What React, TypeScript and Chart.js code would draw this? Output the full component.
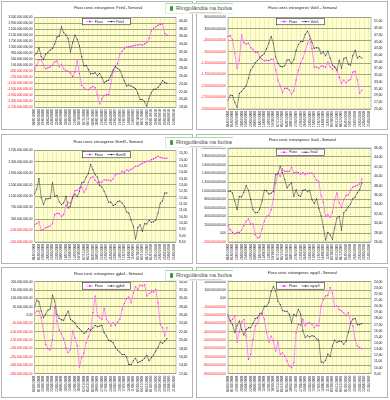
import React, { useEffect, useRef } from 'react';
import { Chart, registerables } from 'chart.js';

Chart.register(...registerables);

const DATES = [
  '04/01/2008', '18/01/2008', '01/02/2008', '15/02/2008', '29/02/2008', '14/03/2008', '28/03/2008', '11/04/2008',
  '25/04/2008', '09/05/2008', '23/05/2008', '06/06/2008', '20/06/2008', '04/07/2008', '18/07/2008', '01/08/2008',
  '15/08/2008', '29/08/2008', '12/09/2008', '26/09/2008', '10/10/2008', '24/10/2008', '07/11/2008', '21/11/2008',
  '05/12/2008', '19/12/2008', '02/01/2009', '16/01/2009', '30/01/2009', '13/02/2009', '27/02/2009', '13/03/2009',
  '27/03/2009', '10/04/2009', '24/04/2009', '08/05/2009', '22/05/2009', '05/06/2009', '19/06/2009', '03/07/2009',
  '17/07/2009', '31/07/2009', '14/08/2009', '28/08/2009', '11/09/2009', '25/09/2009', '09/10/2009', '23/10/2009',
  '06/11/2009', '20/11/2009', '04/12/2009', '18/12/2009', '01/01/2010', '15/01/2010', '29/01/2010', '12/02/2010',
  '26/02/2010', '12/03/2010', '26/03/2010', '09/04/2010', '23/04/2010', '07/05/2010', '21/05/2010', '04/06/2010',
];

// Fluxo values are in millions of R$
const PETR4_FLUXO = [-240, 100, 480, 480, 100, -130, -60, -10, 100, 320, 390, -10, 165, -130, -260, -305, -420, -640, -350, 390, -460, -1250, -1400, -1510, -1535, -1400, -1310, -1400, -1850, -2480, -2140, -1920, -1870, -1850, -1130, -350, 30, 210, 840, 1040, 1220, 1310, 1330, 1375, 1400, 1440, 1465, 1490, 1440, 1530, 1600, 1890, 2400, 2560, 2670, 2760, 2830, 2850, 2225, 2110];
const PETR4_PRECO = [31.3, 31.7, 33.1, 30.9, 30.2, 31.5, 32.0, 32.6, 33.0, 34.1, 35.9, 36.1, 38.5, 37.0, 36.4, 35.5, 32.1, 34.4, 36.4, 35.3, 33.6, 30.9, 28.5, 28.7, 27.6, 26.5, 26.6, 26.8, 26.0, 26.6, 25.6, 24.3, 24.7, 24.9, 26.0, 27.5, 28.3, 27.9, 27.5, 26.0, 24.7, 23.4, 23.7, 23.4, 23.1, 22.8, 21.6, 20.0, 20.0, 19.4, 18.3, 20.3, 21.7, 22.6, 22.6, 23.1, 23.8, 24.8, 24.3, 24.1];
const PETR4_FLUXO_TICKS = [-2700, -2300, -1900, -1500, -1100, -700, -300, 100, 500, 900, 1300, 1700, 2100, 2500, 2900, 3300];
const PETR4_PRECO_TICKS = [18, 20, 22, 24, 26, 28, 30, 32, 34, 36, 38, 40];

const VALE5_FLUXO = [-40, 0, -190, -770, -1425, -1060, 30, -305, -365, -335, -525, -595, -730, -730, -915, -1030, -1105, -1075, -1090, -1030, -1030, -1500, -1935, -2195, -2490, -2300, -2300, -2370, -2545, -2415, -1935, -1515, -1210, -975, -670, -350, -145, -555, -1380, -1365, -1425, -1325, -1340, -1380, -1165, -1355, -1470, -1365, -1530, -1820, -2080, -1935, -2065, -1950, -1920, -1585, -1570, -1935, -2515, -2370];
const VALE5_PRECO = [27.7, 29.1, 29.0, 26.9, 25.5, 29.7, 30.2, 31.1, 31.9, 34.1, 36.5, 37.5, 38.7, 39.4, 40.1, 40.9, 41.4, 42.9, 44.6, 46.5, 44.5, 40.4, 38.6, 37.7, 37.5, 37.8, 39.5, 39.6, 38.4, 39.6, 42.4, 44.1, 45.0, 45.0, 47.1, 48.1, 46.7, 44.7, 43.0, 43.2, 43.1, 41.4, 41.9, 40.8, 42.2, 40.1, 38.0, 37.5, 36.6, 39.5, 37.1, 39.9, 40.3, 38.3, 38.0, 40.8, 42.4, 40.1, 40.6, 40.1];
const VALE5_FLUXO_TICKS = [-3200, -2700, -2200, -1700, -1200, -700, -200, 300, 800];
const VALE5_PRECO_TICKS = [25, 27, 29, 31, 33, 35, 37, 39, 41, 43, 45, 47, 49, 51];

const BVMF3_FLUXO = [100, 140, 200, -90, -70, 0, 25, 60, 140, 455, 500, 490, 395, 455, 770, 885, 850, 1095, 1290, 1305, 1385, 1420, 1235, 1350, 1585, 1735, 1780, 1655, 1560, 1595, 1585, 1675, 1655, 1665, 1630, 1700, 1850, 1885, 1885, 1965, 1930, 2015, 1980, 2035, 2085, 2140, 2150, 2200, 2245, 2280, 2315, 2315, 2375, 2400, 2445, 2490, 2455, 2430, 2420, 2420];
const BVMF3_PRECO = [12.25, 12.7, 13.52, 11.99, 11.46, 11.91, 11.91, 11.96, 13.18, 12.12, 12.17, 11.67, 11.46, 11.59, 12.12, 11.19, 11.33, 11.99, 12.3, 12.07, 12.52, 13.18, 13.23, 13.63, 13.92, 14.63, 14.23, 13.81, 13.63, 12.97, 12.86, 12.52, 12.12, 11.64, 11.67, 11.38, 11.46, 11.7, 11.75, 11.59, 11.33, 10.88, 10.8, 10.22, 9.74, 8.74, 9.64, 9.87, 9.35, 9.95, 9.93, 10.22, 10.06, 10.11, 10.22, 10.8, 11.59, 11.75, 12.38, 12.38];
const BVMF3_FLUXO_TICKS = [-500, -100, 300, 700, 1100, 1500, 1900, 2300, 2700];
const BVMF3_PRECO_TICKS = [8.5, 9, 9.5, 10, 10.5, 11, 11.5, 12, 12.5, 13, 13.5, 14, 14.5, 15, 15.5];

const ITSA4_FLUXO = [180, 90, 25, -5, 25, 25, 73, 190, 284, 338, 214, 221, -28, -106, -83, 104, 292, 401, 416, 557, 806, 1181, 1415, 1337, 1509, 1454, 1454, 1454, 1548, 1415, 1438, 1423, 1384, 1423, 1376, 1407, 1407, 1415, 1337, 1251, 1220, 884, 728, 401, 440, 377, 494, 791, 947, 713, 611, 791, 892, 900, 1009, 1087, 1103, 1126, 1157, 1274];
const ITSA4_PRECO = [36.8, 36.8, 36.4, 34.7, 32.9, 35.7, 35.6, 36.6, 38.0, 37.0, 35.1, 32.9, 32.2, 32.3, 33.0, 34.7, 37.0, 36.9, 36.2, 36.4, 36.8, 40.3, 40.5, 42.1, 40.8, 39.3, 37.5, 38.2, 38.6, 35.7, 37.1, 35.9, 35.7, 37.0, 37.1, 36.7, 37.0, 35.0, 34.2, 35.2, 33.2, 31.6, 29.2, 26.4, 28.1, 27.5, 26.6, 29.0, 31.1, 31.5, 28.5, 32.2, 32.7, 33.5, 34.1, 35.2, 35.6, 36.5, 37.1, 38.6];
const ITSA4_FLUXO_TICKS = [-200, 0, 200, 400, 600, 800, 1000, 1200, 1400, 1600, 1800, 2000];
const ITSA4_PRECO_TICKS = [26, 28, 30, 32, 34, 36, 38, 40, 42, 44, 46];

const GGBR4_FLUXO = [5, 25, 25, -15, -95, -175, -200, -208, -145, 45, -35, -89, -113, -141, -195, -225, -205, -95, -135, -181, -310, -255, -228, -165, -129, -95, 15, 114, -5, -15, -25, 39, -25, -41, -65, -45, -61, -41, -25, 35, 70, 98, 108, 74, 134, 170, 154, 180, 174, 182, 114, 130, 138, 138, 154, 74, -55, -75, -125, -75];
const GGBR4_PRECO = [27.8, 29.6, 29.2, 27.0, 25.4, 26.3, 27.2, 27.5, 30.8, 29.4, 26.2, 25.2, 24.9, 24.8, 26.0, 27.0, 25.0, 24.6, 24.2, 23.2, 22.8, 22.2, 21.6, 22.0, 22.8, 22.4, 22.9, 23.6, 23.2, 23.4, 23.6, 21.8, 21.0, 20.0, 19.8, 19.4, 18.3, 17.6, 17.2, 16.6, 16.6, 16.0, 14.2, 14.2, 15.1, 15.7, 14.6, 14.9, 15.2, 15.7, 16.4, 15.1, 15.8, 16.5, 17.4, 18.3, 19.6, 19.3, 19.8, 20.4];
const GGBR4_FLUXO_TICKS = [-350, -300, -250, -200, -150, -100, -50, 0, 50, 100, 150, 200];
const GGBR4_PRECO_TICKS = [12, 14, 16, 18, 20, 22, 24, 26, 28, 30, 32, 34];

const OGXP3_FLUXO = [-190, -270, -250, -210, -520, -400, -282, -250, -450, -729, -669, -490, -330, -298, -203, -191, -250, -410, -521, -450, -509, -629, -521, -669, -649, -689, -749, -808, -828, -769, -410, -310, -322, -250, -330, -298, -290, -310, -350, -322, -330, -91, -11, 29, 37, 130, 68, -99, -91, -135, -147, -171, -203, -171, -278, -330, -497, -569, -589, -601];
const OGXP3_PRECO = [18.4, 17.6, 17.0, 15.7, 16.9, 17.6, 16.2, 15.3, 16.2, 16.5, 16.5, 17.2, 18.0, 18.1, 18.8, 18.9, 20.0, 20.0, 20.6, 22.4, 23.2, 22.5, 20.8, 20.3, 19.3, 19.2, 19.2, 18.7, 17.3, 18.7, 18.4, 19.5, 18.7, 16.0, 14.9, 15.2, 15.0, 15.2, 15.1, 14.7, 14.5, 10.9, 10.8, 11.2, 12.2, 11.8, 13.5, 14.5, 14.1, 14.3, 14.3, 13.8, 14.3, 15.7, 17.2, 17.9, 18.0, 17.0, 17.0, 17.2];
const OGXP3_FLUXO_TICKS = [-900, -800, -700, -600, -500, -400, -300, -200, -100, 0, 100, 200];
const OGXP3_PRECO_TICKS = [9, 10, 11, 12, 13, 14, 15, 16, 17, 18, 19, 20, 21, 22, 23, 24];

const FONT = '"Liberation Sans", Arial, sans-serif';

function fmtBR(n: number, decimals = 2): string {
  const neg = n < 0;
  const fixed = Math.abs(n).toFixed(decimals);
  const [intPart, dec] = fixed.split('.');
  const grouped = intPart.replace(/\B(?=(\d{3})+(?!\d))/g, '.');
  return (neg ? '-' : '') + grouped + (dec ? ',' + dec : '');
}

type Spec = {
  title: string;
  stock: string;
  fluxo: number[];
  preco: number[];
  fluxoTicks: number[];
  precoTicks: number[];
  precoMax: number;
  x: number; y: number; w: number; h: number;
  l: number; r: number; t: number; b: number;
  titleY: number;
};

const decorPlugin = {
  id: 'decor',
  beforeDraw(chart: any) {
    const { ctx, chartArea: a } = chart;
    ctx.save();
    ctx.fillStyle = '#ffffcc';
    ctx.fillRect(a.left, a.top, a.right - a.left, a.bottom - a.top);
    ctx.restore();
  },
  afterDatasetsDraw(chart: any, _args: any, opts: any) {
    const { ctx, chartArea: a } = chart;
    ctx.save();
    ctx.strokeStyle = '#9a9a9a';
    ctx.lineWidth = 0.6;
    ctx.strokeRect(a.left, a.top, a.right - a.left, a.bottom - a.top);
    const cx = (a.left + a.right) / 2 + 1;
    const bx = cx - 24;
    const by = a.top + 1;
    const bw = 48;
    const bh = 6.5;
    ctx.fillStyle = '#ffffff';
    ctx.fillRect(bx, by, bw, bh);
    ctx.strokeStyle = '#000000';
    ctx.lineWidth = 0.5;
    ctx.strokeRect(bx, by, bw, bh);
    const my = by + bh / 2;
    ctx.lineWidth = 0.9;
    ctx.strokeStyle = '#ff88ff';
    ctx.beginPath(); ctx.moveTo(bx + 4, my); ctx.lineTo(bx + 11, my); ctx.stroke();
    ctx.fillStyle = '#ff00ff';
    ctx.fillRect(bx + 6.8, my - 0.8, 1.6, 1.6);
    ctx.strokeStyle = '#505058';
    ctx.lineWidth = 0.7;
    ctx.beginPath(); ctx.moveTo(bx + 25, my); ctx.lineTo(bx + 33, my); ctx.stroke();
    ctx.fillStyle = '#000080';
    ctx.fillRect(bx + 28.5, my - 0.6, 1.2, 1.2);
    ctx.fillStyle = '#222222';
    ctx.font = `3.3px ${FONT}`;
    ctx.textBaseline = 'middle';
    ctx.textAlign = 'left';
    ctx.fillText('Fluxo', bx + 12.5, my + 0.2);
    ctx.fillText(opts.stock, bx + 34, my + 0.2);
    ctx.restore();
  },
  afterDraw(chart: any, _args: any, opts: any) {
    const { ctx, chartArea: a } = chart;
    ctx.save();
    ctx.fillStyle = '#222222';
    ctx.font = `3.6px ${FONT}`;
    ctx.textAlign = 'center';
    ctx.textBaseline = 'middle';
    ctx.fillText(opts.title, (a.left + a.right) / 2 + 3, opts.titleY);
    ctx.restore();
  },
};

function ChartPanel({ spec }: { spec: Spec }) {
  const ref = useRef<HTMLCanvasElement>(null);
  useEffect(() => {
    const canvas = ref.current;
    if (!canvas) return;
    const fTicks = spec.fluxoTicks;
    const pTicks = spec.precoTicks;
    const chart = new Chart(canvas, {
      type: 'line',
      data: {
        labels: DATES,
        datasets: [
          {
            label: 'Fluxo',
            data: spec.fluxo,
            yAxisID: 'y',
            borderColor: '#ff80ff',
            borderWidth: 0.9,
            pointRadius: 0.75,
            pointBorderWidth: 0,
            pointBackgroundColor: '#ff00ff',
            pointStyle: 'rect',
            tension: 0,
            order: 1,
          },
          {
            label: spec.stock,
            data: spec.preco,
            yAxisID: 'y2',
            borderColor: '#4a4a4e',
            borderWidth: 0.6,
            pointRadius: 0.5,
            pointBorderWidth: 0,
            pointBackgroundColor: '#000080',
            tension: 0,
            order: 0,
          },
        ],
      },
      options: {
        responsive: false,
        animation: false,
        devicePixelRatio: 1,
        events: [],
        layout: { padding: { top: spec.t, left: 0, right: 0, bottom: 0 } },
        plugins: {
          legend: { display: false },
          title: { display: false },
          tooltip: { enabled: false },
          decor: { title: spec.title, stock: spec.stock, titleY: spec.titleY },
        } as any,
        scales: {
          x: {
            type: 'category',
            offset: false,
            grid: {
              color: (c: any) => (c.index % 2 === 0 ? '#b8b89c' : 'rgba(0,0,0,0)'),
              lineWidth: 0.5,
              drawTicks: false,
            },
            border: { display: false, dash: [1, 1] },
            ticks: {
              autoSkip: false,
              minRotation: 90,
              maxRotation: 90,
              padding: 2,
              color: '#333333',
              font: { size: 3.2, family: FONT },
              callback: (_v: any, i: number) => (i % 2 === 0 ? DATES[i] : ''),
            },
            afterFit: (s: any) => { s.height = spec.h - spec.b; },
          },
          y: {
            type: 'linear',
            position: 'left',
            min: fTicks[0],
            max: fTicks[fTicks.length - 1],
            afterBuildTicks: (s: any) => { s.ticks = fTicks.map((v) => ({ value: v })); },
            grid: { color: '#8e8e70', lineWidth: 0.8, drawTicks: false },
            border: { display: false },
            ticks: {
              autoSkip: false,
              padding: 2,
              font: { size: 3.1, family: FONT },
              color: (c: any) => (c.tick && c.tick.value < 0 ? '#ff0000' : '#111111'),
              callback: (v: any) => fmtBR(Number(v) * 1e6),
            },
            afterFit: (s: any) => { s.width = spec.l; },
          },
          y2: {
            type: 'linear',
            position: 'right',
            min: pTicks[0],
            max: spec.precoMax,
            afterBuildTicks: (s: any) => { s.ticks = pTicks.map((v) => ({ value: v })); },
            grid: { drawOnChartArea: false, drawTicks: false },
            border: { display: false },
            ticks: {
              autoSkip: false,
              padding: 3,
              font: { size: 3.4, family: FONT },
              color: '#111111',
              callback: (v: any) => fmtBR(Number(v)),
            },
            afterFit: (s: any) => { s.width = spec.w - spec.r; },
          },
        },
      } as any,
      plugins: [decorPlugin as any],
    });
    return () => chart.destroy();
  }, [spec]);
  return (
    <>
      <canvas
        ref={ref}
        width={spec.w}
        height={spec.h}
        style={{ position: 'absolute', left: spec.x, top: spec.y, width: spec.w, height: spec.h, display: 'block' }}
      />
      <div
        style={{
          position: 'absolute', left: spec.x, top: spec.y, width: spec.w, height: spec.h,
          border: '1px solid #b4b4b4', boxSizing: 'border-box', pointerEvents: 'none',
        }}
      />
    </>
  );
}

const SPECS: Spec[] = [
  {
    title: 'Fluxo const. estrangeiros: Petr4 - Semanal', stock: 'Petr4',
    fluxo: PETR4_FLUXO, preco: PETR4_PRECO, fluxoTicks: PETR4_FLUXO_TICKS, precoTicks: PETR4_PRECO_TICKS, precoMax: 40.9,
    x: 1, y: 1, w: 192, h: 129, l: 33.5, r: 175, t: 16.3, b: 106.3, titleY: 7.3,
  },
  {
    title: 'Fluxo const. estrangeiros: Vale5 - Semanal', stock: 'Vale5',
    fluxo: VALE5_FLUXO, preco: VALE5_PRECO, fluxoTicks: VALE5_FLUXO_TICKS, precoTicks: VALE5_PRECO_TICKS, precoMax: 52.2,
    x: 196, y: 1, w: 192, h: 129, l: 32, r: 175, t: 16.3, b: 108, titleY: 7.3,
  },
  {
    title: 'Fluxo const. estrangeiros: Bvmf3 - Semanal', stock: 'Bvmf3',
    fluxo: BVMF3_FLUXO, preco: BVMF3_PRECO, fluxoTicks: BVMF3_FLUXO_TICKS, precoTicks: BVMF3_PRECO_TICKS, precoMax: 15.75,
    x: 1, y: 134, w: 192, h: 130, l: 33.5, r: 175, t: 16.3, b: 108, titleY: 8,
  },
  {
    title: 'Fluxo const. estrangeiros: Itsa4 - Semanal', stock: 'Itsa4',
    fluxo: ITSA4_FLUXO, preco: ITSA4_PRECO, fluxoTicks: ITSA4_FLUXO_TICKS, precoTicks: ITSA4_PRECO_TICKS, precoMax: 46,
    x: 196, y: 134, w: 192, h: 130, l: 32, r: 175, t: 14, b: 108, titleY: 6.3,
  },
  {
    title: 'Fluxo const. estrangeiros: ggbr4 - Semanal', stock: 'ggbr4',
    fluxo: GGBR4_FLUXO, preco: GGBR4_PRECO, fluxoTicks: GGBR4_FLUXO_TICKS, precoTicks: GGBR4_PRECO_TICKS, precoMax: 34,
    x: 1, y: 267, w: 192, h: 131, l: 33.5, r: 175, t: 14.7, b: 106.7, titleY: 7.3,
  },
  {
    title: 'Fluxo const. estrangeiros: ogxp3 - Semanal', stock: 'ogxp3',
    fluxo: OGXP3_FLUXO, preco: OGXP3_PRECO, fluxoTicks: OGXP3_FLUXO_TICKS, precoTicks: OGXP3_PRECO_TICKS, precoMax: 24,
    x: 196, y: 267, w: 192, h: 131, l: 32, r: 175, t: 14.7, b: 106.7, titleY: 5.7,
  },
];

const LOGO_TOPS = [3, 137, 270];

function Logo({ top }: { top: number }) {
  return (
    <div
      style={{
        position: 'absolute', left: 165, top, width: 68, height: 11, background: '#ffffff',
        borderTop: '1.5px solid #a8dca8', borderLeft: '1px solid #d2ecd2', borderBottom: '1px solid #e4f2e4',
        boxSizing: 'border-box', overflow: 'hidden',
      }}
    >
      <div style={{ position: 'absolute', left: 4, top: 1.5, width: 3, height: 5, background: '#3c9a3c', borderRadius: 1 }} />
      <span
        style={{
          position: 'absolute', left: 10, top: 0, fontSize: 6.2, lineHeight: '7px', fontFamily: FONT,
          color: '#555555', whiteSpace: 'nowrap', letterSpacing: -0.1,
        }}
      >
        Ringolândia na bolsa
      </span>
      <span
        style={{
          position: 'absolute', left: 24, top: 6.8, fontSize: 2.2, lineHeight: '2.5px', fontFamily: FONT,
          color: '#888888', whiteSpace: 'nowrap',
        }}
      >
        ringolandianabolsa.blogspot.com
      </span>
    </div>
  );
}

export default function App() {
  return (
    <div style={{ position: 'fixed', left: 0, top: 0, width: 390, height: 400, background: '#ffffff', overflow: 'hidden' }}>
      {SPECS.map((s, i) => (
        <ChartPanel key={i} spec={s} />
      ))}
      {LOGO_TOPS.map((t, i) => (
        <Logo key={i} top={t} />
      ))}
    </div>
  );
}
